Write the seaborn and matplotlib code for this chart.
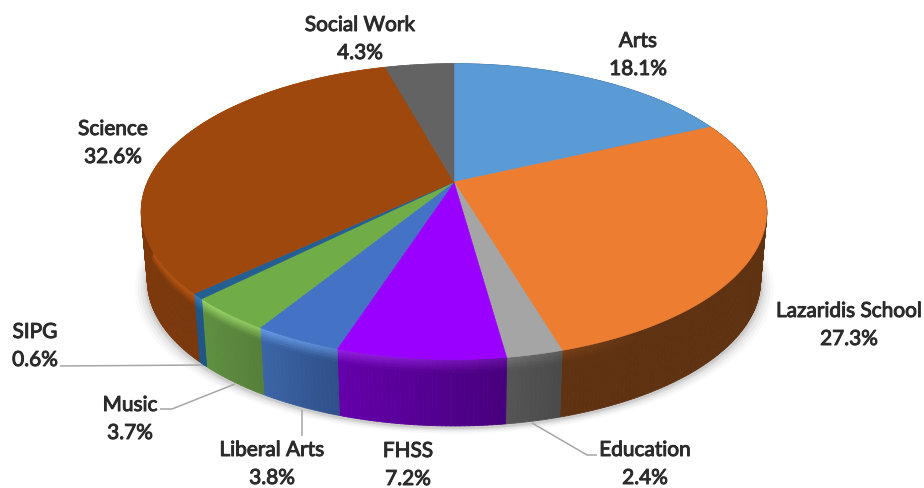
import numpy as np
import matplotlib
matplotlib.use("Agg")
import matplotlib.pyplot as plt
import matplotlib.patheffects as pe
from matplotlib.collections import PolyCollection
from matplotlib.colors import to_rgb
import seaborn as sns

# Share of the total per school, clockwise from twelve o'clock
schools = ["Arts", "Lazaridis School", "Education", "FHSS", "Liberal Arts",
           "Music", "SIPG", "Science", "Social Work"]
shares = [18.1, 27.3, 2.4, 7.2, 3.8, 3.7, 0.6, 32.6, 4.3]

top_hex = ["#5b9bd5", "#ed7d31", "#a5a5a5", "#9900ff", "#4472c4",
           "#70ad47", "#255e91", "#9e480e", "#636363"]
wall_left_hex = ["#37618a", "#5f3212", "#555555", "#6400ab", "#3c66a8",
                 "#5f9040", "#1f5585", "#843c0c", "#444444"]
wall_right_hex = ["#37618a", "#5f3212", "#4a4a4a", "#47007c", "#2f4f88",
                  "#567f3a", "#1f5585", "#7a380c", "#444444"]
rim_hex = ["#5b9bd5", "#ed7d31", "#b0b0b0", "#b030ff", "#6ea6f5",
           "#9bd868", "#3a80c0", "#bf5a14", "#707070"]

# Text anchors and leader lines, in figure pixels
label_xy = {"Arts": (638, 56), "Lazaridis School": (849, 326), "Education": (645, 465),
            "FHSS": (408, 466), "Liberal Arts": (272, 465), "Music": (130, 420),
            "SIPG": (35, 347), "Science": (113, 144), "Social Work": (360, 40)}
leaders = [[(60, 367), (205, 366)],
           [(160, 410), (172, 410), (235, 385)],
           [(302, 437), (302, 411)],
           [(597, 456), (587, 456), (532, 424)]]

# Perspective of the disc
CX, CY = 454.0, 183.0
RX, RY, PERSP = 306.5, 142.0, 0.20
DEPTH, SHRINK = 70.0, 0.98


def project(theta, radius=1.0, drop=0.0, scale=1.0):
    """Map a clockwise angle from twelve o'clock onto the tilted disc."""
    u = radius * np.sin(theta)
    v = radius * np.cos(theta)
    f = scale / (1 + PERSP * v)
    return CX + RX * u * f, CY + drop - RY * v * f


def blend(a, b, t):
    return tuple((1 - t) * x + t * y for x, y in zip(a, b))


sns.set_theme(style="white")
plt.rcParams["font.family"] = ["Lato", "DejaVu Sans"]
top_colors = sns.color_palette(top_hex)

fig = plt.figure(figsize=(9.24, 4.89), dpi=100, facecolor="white")
ax = fig.add_axes([0, 0, 1, 1])
ax.set_xlim(0, 924)
ax.set_ylim(489, 0)
ax.axis("off")

edges = 2 * np.pi * np.cumsum([0] + shares) / sum(shares)

# Soft shadow under the base
circle = np.linspace(0, 2 * np.pi, 400)
for grow, alpha in zip([13, 10, 7, 4, 2], [0.02, 0.03, 0.04, 0.05, 0.07]):
    sx, sy = project(circle, drop=DEPTH + 2, scale=SHRINK)
    sx = CX + (sx - CX) * (1 + grow / 310)
    sy = sy + grow * 0.45
    ax.fill(sx, sy, color="black", alpha=alpha, lw=0, zorder=1)

# Outer wall, built from small shaded quads
quads, quad_colors = [], []
BANDS = [0, 0.03, 0.06, 0.09, 0.12, 0.16, 0.2, 1.0]
for i in range(len(shares)):
    steps = max(3, int((edges[i + 1] - edges[i]) / 0.012))
    th = np.linspace(edges[i], edges[i + 1], steps + 1)
    left, right = to_rgb(wall_left_hex[i]), to_rgb(wall_right_hex[i])
    rim = to_rgb(rim_hex[i])
    for j in range(steps):
        mid = 0.5 * (th[j] + th[j + 1])
        # Clockwise angle runs right to left along the front of the disc
        across = 1 - (j + 0.5) / steps
        base = blend(left, right, across)
        # The rim highlight is strongest on the lower left and fades to the right
        glow = np.clip((mid - np.radians(150)) / np.radians(70), 0, 1)
        for b0, b1 in zip(BANDS[:-1], BANDS[1:]):
            x0t, y0t = project(th[j])
            x1t, y1t = project(th[j + 1])
            x0b, y0b = project(th[j], drop=DEPTH, scale=SHRINK)
            x1b, y1b = project(th[j + 1], drop=DEPTH, scale=SHRINK)
            quads.append([(x0t + (x0b - x0t) * b0, y0t + (y0b - y0t) * b0),
                          (x1t + (x1b - x1t) * b0, y1t + (y1b - y1t) * b0),
                          (x1t + (x1b - x1t) * b1, y1t + (y1b - y1t) * b1),
                          (x0t + (x0b - x0t) * b1, y0t + (y0b - y0t) * b1)])
            depth_mix = max(0.0, 1 - 0.5 * (b0 + b1) / 0.2) if b1 < 1 else 0.0
            quad_colors.append(blend(base, rim, glow * depth_mix))
wall = PolyCollection(quads, facecolors=quad_colors, edgecolors=quad_colors,
                      linewidths=0.6, zorder=2)
ax.add_collection(wall)

# Top face of each wedge
for i, color in enumerate(top_colors):
    th = np.linspace(edges[i], edges[i + 1], 120)
    px, py = project(th)
    ax.fill(np.r_[CX, px], np.r_[CY, py], color=color, ec=color, lw=0.4, zorder=3)

# Leader lines for the narrow wedges
for path in leaders:
    xs, ys = zip(*path)
    ax.plot(xs, ys, color="#a6a6a6", lw=1.1, solid_capstyle="butt", zorder=1.5)

# Category name above its percentage, thickened slightly with a thin stroke
for name, share in zip(schools, shares):
    x, y = label_xy[name]
    ax.text(x, y, f"{name}\n{share:.1f}%", ha="center", va="center",
            fontsize=15, color="#2b2b2b", linespacing=1.5, zorder=5,
            path_effects=[pe.withStroke(linewidth=0.7, foreground="#2b2b2b")])

fig.savefig("out.png", dpi=100, facecolor="white")
